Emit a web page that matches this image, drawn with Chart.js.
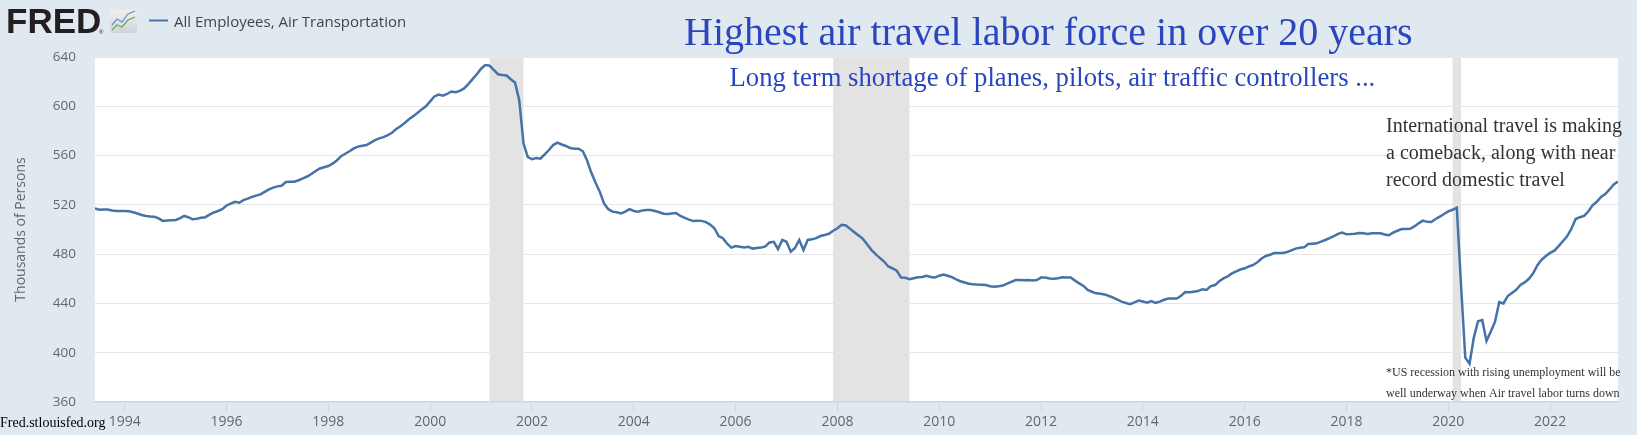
<!DOCTYPE html>
<html>
<head>
<meta charset="utf-8">
<script src="https://cdn.jsdelivr.net/npm/chart.js@4.4.0/dist/chart.umd.min.js"></script>
<style>
html,body{margin:0;padding:0;background:#e1e9f0;}
#wrap{width:1637px;height:435px;position:relative;}
</style>
</head>
<body>
<div id="wrap"><canvas id="myChart"></canvas></div>
<script>
// All Employees, Air Transportation (thousands), monthly, Jun 1993 - May 2023
var firstYear = 1993, firstMonth = 6;
var employees = [
    517, 516, 516.2, 516.3, 515.5, 515, 515,                                    // 1993 (Jun-Dec)
    515, 514.8, 514, 513, 511.8, 511, 510.5, 510.3, 509, 507, 507.3, 507.5,      // 1994
    507.7, 509, 511, 510, 508.3, 508.8, 509.5, 510, 512, 513.8, 515, 516.5,      // 1995
    519.5, 521, 522.5, 521.7, 523.8, 525, 526.5, 527.5, 528.5, 530.5, 532.5, 534,// 1996
    535, 535.5, 538.5, 538.8, 538.8, 540, 541.5, 543, 545, 547.5, 549.5, 550.5,  // 1997
    551.5, 553.5, 556, 559.5, 561.5, 563.5, 565.8, 567.3, 568, 568.5, 570.5, 572.5, // 1998
    574, 575, 576.5, 578.5, 581.5, 583.8, 586.5, 589.5, 592, 594.5, 597.5, 600,  // 1999
    604, 608, 609.5, 608.6, 610, 612, 611.5, 612.5, 614.5, 618, 622, 626,        // 2000
    630.5, 633.5, 633, 629.5, 626, 625.4, 625, 622, 619.4, 605, 570, 559,        // 2001
    557, 558, 557.5, 561, 564.5, 568.5, 570.5, 569, 567.8, 566.2, 565.6, 565.6,  // 2002
    563.5, 556, 546, 538, 530.5, 521, 516.5, 514.5, 514, 513, 514.5, 516.5,      // 2003
    515, 514.5, 515.5, 515.8, 515.8, 515, 514, 512.8, 512.5, 513, 513.3, 511,    // 2004
    509.5, 508, 507, 507.2, 507, 506, 504, 501, 494.7, 493, 488.5, 485.3,        // 2005
    486.5, 486, 485.5, 486, 484.5, 485, 485.3, 486.3, 489.5, 490, 484.2, 491.5,  // 2006
    490, 482, 485, 491.5, 483.3, 491.5, 492, 493, 494.7, 495.5, 496.5, 499,      // 2007
    501, 503.8, 503.3, 500.5, 497.8, 495.2, 492.4, 488, 483.5, 480, 477, 474,    // 2008
    470, 468.5, 466.5, 461, 460.8, 459.6, 460.5, 461.2, 461.5, 462.4, 461.5, 461,// 2009
    462.5, 463.5, 462.5, 461.3, 459.5, 458, 457, 456, 455.6, 455.3, 455.2, 455,  // 2010
    454, 453.6, 454, 454.5, 456, 457.5, 459, 459, 458.8, 459, 458.6, 459,        // 2011
    461, 461, 460.3, 460, 460.5, 461.2, 461.1, 461, 458.5, 456.3, 454.2, 451,    // 2012
    449.5, 448.2, 447.8, 447.3, 446, 444.7, 443, 441.4, 440.3, 439.4, 440.8, 442.3, // 2013
    441.5, 440.6, 441.9, 440.5, 441.5, 443, 444, 444, 444, 446.3, 449.3, 449,    // 2014
    449.5, 450, 451.4, 451, 454, 454.9, 458, 460.3, 462, 464.4, 466, 467.5,      // 2015
    468.5, 470, 471.2, 473.4, 476.5, 478.5, 479.5, 480.9, 480.9, 481, 481.8, 483,// 2016
    484.5, 485.2, 485.5, 488.2, 488.5, 488.8, 490.1, 491.5, 493, 494.7, 496.5, 497.5, // 2017
    496.1, 496.3, 496.6, 497.2, 497, 496.3, 496.9, 496.9, 496.9, 496, 495.3, 497.5,   // 2018
    499, 500.4, 500.5, 500.6, 502.5, 505, 507.2, 506.2, 506.1, 508.5, 510.5, 512.6,   // 2019
    514.7, 516, 517.7, 455, 396, 391, 412, 425.5, 426.5, 409.5, 417, 425,        // 2020
    441, 440, 446, 448.5, 451, 455, 457.1, 460, 464.5, 471, 475.5, 478.5,        // 2021
    481, 482.8, 486.5, 490.5, 494.5, 500.5, 508.5, 510, 511, 514.6, 519.6, 522.5,// 2022
    526.5, 528.7, 532.5, 536.5, 539                                              // 2023 (Jan-May)
];

var recessionStart = ['2001-03', '2007-12', '2020-02'];
var recessionEnd   = ['2001-11', '2009-06', '2020-04'];

var yearTicks = [1994, 1996, 1998, 2000, 2002, 2004, 2006, 2008, 2010, 2012, 2014, 2016, 2018, 2020, 2022];
var yMin = 360, yMax = 640, yStep = 40;

var titleText = 'Highest air travel labor force in over 20 years';
var subtitleText = 'Long term shortage of planes, pilots, air traffic controllers ...';
var noteLines = ['International travel is making', 'a comeback, along with near', 'record domestic travel'];
var footLines = ['*US recession with rising unemployment will be', 'well underway when Air travel labor turns down'];

function toYear(s){
    var p = s.split('-');
    return +p[0] + (p[1] - 1) / 12;
}

var points = [];
for (var i = 0; i < employees.length; i++) {
    points.push({x: firstYear + (firstMonth - 1 + i) / 12, y: employees[i]});
}

var fredDecor = {
    id: 'fredDecor',
    beforeDraw: function(chart){
        var c = chart.ctx, a = chart.chartArea, xs = chart.scales.x;
        c.save();
        c.fillStyle = '#e1e9f0';
        c.fillRect(0, 0, chart.width, chart.height);
        c.fillStyle = '#ffffff';
        c.fillRect(a.left, a.top, a.right - a.left, a.bottom - a.top);
        c.fillStyle = '#e3e3e3';
        for (var k = 0; k < recessionStart.length; k++) {
            var x1 = xs.getPixelForValue(toYear(recessionStart[k]));
            var x2 = xs.getPixelForValue(toYear(recessionEnd[k]));
            c.fillRect(x1, a.top, x2 - x1, a.bottom - a.top);
        }
        c.restore();
    },
    afterDraw: function(chart){
        var c = chart.ctx;
        var ds = chart.data.datasets[0];
        c.save();
        // FRED logo
        c.fillStyle = '#231f20';
        c.font = 'bold 35px "Liberation Sans"';
        c.textBaseline = 'alphabetic';
        c.fillText('FRED', 6, 33);
        c.font = '6px "Liberation Sans"';
        c.fillText('\u00ae', 99, 34);
        var g = c.createLinearGradient(0, 10, 0, 33);
        g.addColorStop(0, '#f0f0f0');
        g.addColorStop(1, '#cfd4d8');
        c.fillStyle = g;
        c.beginPath();
        c.roundRect(110, 10, 27, 23, 3);
        c.fill();
        c.lineWidth = 1.2;
        c.strokeStyle = '#6aa84f';
        c.beginPath();
        c.moveTo(112, 30); c.lineTo(117, 25); c.lineTo(122, 27); c.lineTo(128, 20); c.lineTo(135, 17);
        c.stroke();
        c.strokeStyle = '#6b8fc4';
        c.beginPath();
        c.moveTo(112, 25); c.lineTo(117, 19); c.lineTo(122, 22); c.lineTo(128, 14); c.lineTo(135, 11);
        c.stroke();
        // legend
        c.strokeStyle = ds.borderColor;
        c.lineWidth = 2;
        c.beginPath();
        c.moveTo(149, 20.5); c.lineTo(168, 20.5);
        c.stroke();
        c.fillStyle = '#444444';
        c.font = '15px "Open Sans"';
        c.fillText(ds.label, 174, 26.5);
        // headline
        c.fillStyle = '#2a46bf';
        c.font = '40px "Liberation Serif"';
        c.fillText(titleText, 684, 45);
        c.font = '26.7px "Liberation Serif"';
        c.fillText(subtitleText, 729.5, 86);
        // notes
        c.fillStyle = '#333333';
        c.font = '20px "Liberation Serif"';
        for (var n = 0; n < noteLines.length; n++) c.fillText(noteLines[n], 1386, 132.3 + n * 26.7);
        c.font = '12px "Liberation Serif"';
        for (var f = 0; f < footLines.length; f++) c.fillText(footLines[f], 1386, 376 + f * 21.3);
        c.fillStyle = '#000000';
        c.font = '14px "Liberation Serif"';
        c.fillText('Fred.stlouisfed.org', 0, 427);
        c.restore();
    }
};

var ctx = document.getElementById('myChart').getContext('2d');
var myChart = new Chart(ctx, {
    type: 'line',
    data: {
        datasets: [{
            label: 'All Employees, Air Transportation',
            data: points,
            borderColor: '#4572a7',
            borderWidth: 2.5,
            pointRadius: 0,
            fill: false,
            tension: 0
        }]
    },
    options: {
        responsive: true,
        maintainAspectRatio: false,
        animation: false,
        layout: {padding: {top: 57, right: 19, left: 0, bottom: 0}},
        plugins: {legend: {display: false}, tooltip: {enabled: false}, title: {display: false}},
        scales: {
            x: {
                type: 'linear',
                min: firstYear + (firstMonth - 1) / 12,
                max: firstYear + (firstMonth - 1 + employees.length - 1) / 12,
                afterBuildTicks: function(scale){
                    scale.ticks = yearTicks.map(function(v){ return {value: v}; });
                },
                afterFit: function(scale){ scale.height = 33; },
                grid: {drawOnChartArea: false, drawTicks: true, tickLength: 10, color: '#ccd6eb', lineWidth: 1},
                border: {display: true, color: '#ccd6eb', width: 1.5},
                ticks: {
                    autoSkip: false, maxRotation: 0, padding: 2,
                    color: '#666666', font: {family: 'Open Sans', size: 14},
                    callback: function(v){ return String(v); }
                }
            },
            y: {
                min: yMin, max: yMax,
                afterFit: function(scale){ scale.width = 95; },
                grid: {color: '#e6e6e6', drawTicks: false, lineWidth: 1},
                border: {display: false},
                ticks: {stepSize: yStep, padding: 19, color: '#666666', font: {family: 'Open Sans', size: 13.5}},
                title: {display: true, text: 'Thousands of Persons', color: '#666666',
                        font: {family: 'Open Sans', size: 14}, padding: {top: 13, bottom: 0}}
            }
        }
    },
    plugins: [fredDecor]
});
</script>
</body>
</html>
